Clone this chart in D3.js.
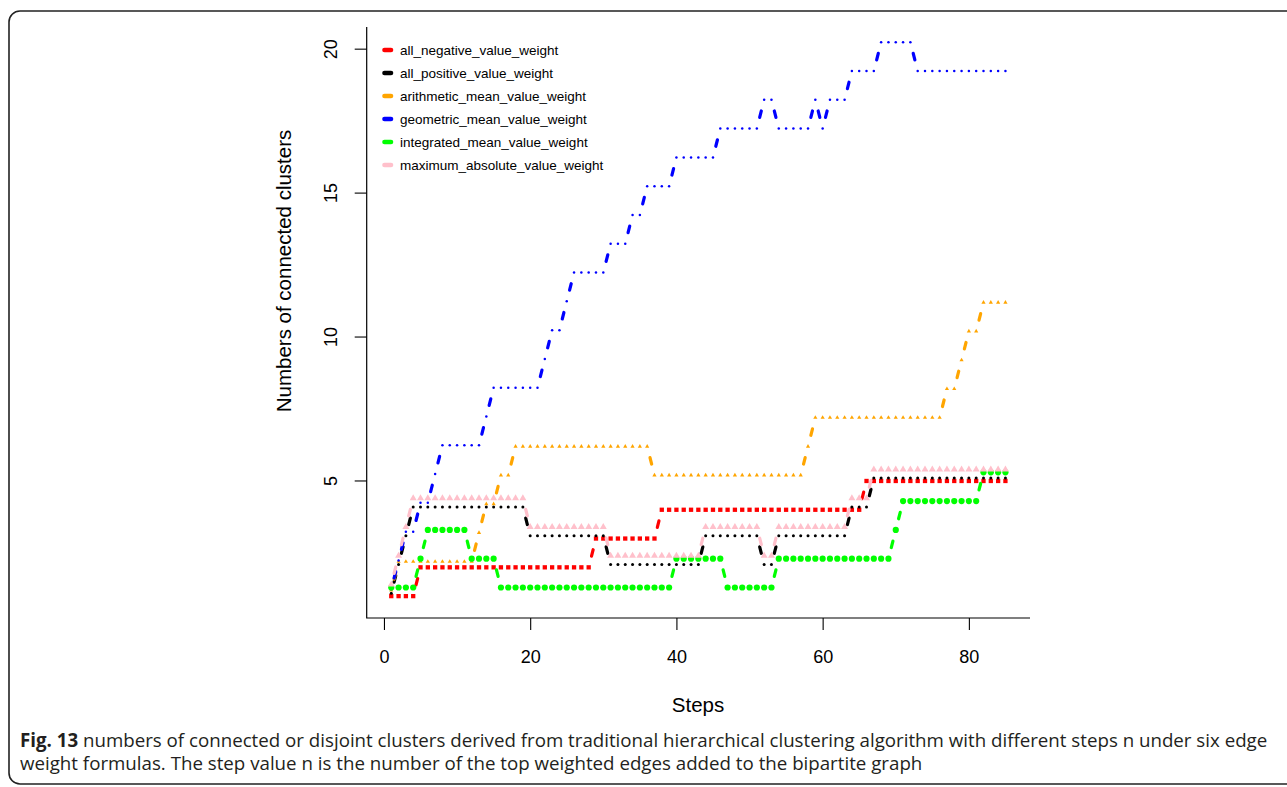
<!DOCTYPE html>
<html>
<head>
<meta charset="utf-8">
<script src="https://cdn.jsdelivr.net/npm/d3@7"></script>
<style>
  body { margin: 0; background: #fff; }
  svg { display: block; }
  text { font-family: "Liberation Sans", Arial, Helvetica, sans-serif; }
</style>
</head>
<body>
<div id="chart-area"></div>
<script>
// steps 1..85 on the x axis
const steps = d3.range(1, 86)

const seriesNames = [
  "all_negative_value_weight",
  "all_positive_value_weight",
  "arithmetic_mean_value_weight",
  "geometric_mean_value_weight",
  "integrated_mean_value_weight",
  "maximum_absolute_value_weight"
]

// values, one per step
const allNegative = [1,1,1,1,2,2,2,2,2,2,2,2,2,2,2,2,2,2,2,2,2,2,2,2,2,2,2,2,3,3,3,3,3,3,3,3,3,4,4,4,4,4,4,4,4,4,4,4,4,4,4,4,4,4,4,4,4,4,4,4,4,4,4,4,4,5,5,5,5,5,5,5,5,5,5,5,5,5,5,5,5,5,5,5,5]
const allPositive = [1,2,3,4,4,4,4,4,4,4,4,4,4,4,4,4,4,4,4,3,3,3,3,3,3,3,3,3,3,3,2,2,2,2,2,2,2,2,2,2,2,2,2,3,3,3,3,3,3,3,3,2,2,3,3,3,3,3,3,3,3,3,3,4,4,4,5,5,5,5,5,5,5,5,5,5,5,5,5,5,5,5,5,5,5]
const arithmeticMean = [1,2,2,2,2,2,2,2,2,2,2,2,3,4,4,5,5,6,6,6,6,6,6,6,6,6,6,6,6,6,6,6,6,6,6,6,5,5,5,5,5,5,5,5,5,5,5,5,5,5,5,5,5,5,5,5,5,6,7,7,7,7,7,7,7,7,7,7,7,7,7,7,7,7,7,7,8,8,9,10,10,11,11,11,11]
const geometricMean = [1,2,3,3,4,4,5,6,6,6,6,6,6,7,8,8,8,8,8,8,8,9,10,10,11,12,12,12,12,12,13,13,13,14,14,15,15,15,15,16,16,16,16,16,16,17,17,17,17,17,17,18,18,17,17,17,17,17,18,17,18,18,18,19,19,19,19,20,20,20,20,20,19,19,19,19,19,19,19,19,19,19,19,19,19]
const integratedMean = [1,1,1,1,2,3,3,3,3,3,3,2,2,2,2,1,1,1,1,1,1,1,1,1,1,1,1,1,1,1,1,1,1,1,1,1,1,1,1,2,2,2,2,2,2,2,1,1,1,1,1,1,1,2,2,2,2,2,2,2,2,2,2,2,2,2,2,2,2,3,4,4,4,4,4,4,4,4,4,4,4,5,5,5,5]
const maximumAbsolute = [1,2,3,4,4,4,4,4,4,4,4,4,4,4,4,4,4,4,4,3,3,3,3,3,3,3,3,3,3,3,2,2,2,2,2,2,2,2,2,2,2,2,2,3,3,3,3,3,3,3,3,2,2,3,3,3,3,3,3,3,3,3,3,4,4,4,5,5,5,5,5,5,5,5,5,5,5,5,5,5,5,5,5,5,5]

// small vertical shift used in the figure so the lines do not overlap
const yOffsets = [0, 0.1, 0.2, 0.24, 0.3, 0.4]

const xTicks = [0, 20, 40, 60, 80]
const yTicks = [5, 10, 15, 20]

const captionBold = "Fig. 13"
const captionLine1 = " numbers of connected or disjoint clusters derived from traditional hierarchical clustering algorithm with different steps n under six edge"
const captionLine2 = "weight formulas. The step value n is the number of the top weighted edges added to the bipartite graph"

const seriesValues = [allNegative, allPositive, arithmeticMean, geometricMean, integratedMean, maximumAbsolute]

// marker looks, per series
const styles = [
  { color: "#ff0000", shape: "square", size: 18.5 },
  { color: "#000000", shape: "circle", r: 1.5 },
  { color: "#ffa500", shape: "triangle", size: 7.6 },
  { color: "#0000ff", shape: "circle", r: 1.25 },
  { color: "#00ff00", shape: "circle", r: 3.1 },
  { color: "#ffc0cb", shape: "triangle", size: 21 }
]

const W = 1287, H = 787
const svg = d3.select("#chart-area").append("svg")
  .attr("width", W)
  .attr("height", H)

// figure frame
svg.append("rect")
  .attr("x", 9).attr("y", 11)
  .attr("width", 1300).attr("height", 773)
  .attr("rx", 11).attr("ry", 11)
  .attr("fill", "none")
  .attr("stroke", "#222")
  .attr("stroke-width", 1.6)

const x = d3.scaleLinear()
  .domain([-2.36, 88.36])
  .range([366.7, 1030])

const y = d3.scaleLinear()
  .domain([0.24, 20.77])
  .range([618, 27])

const g = svg.append("g")

// L shaped box
g.append("path")
  .attr("d", `M${x.range()[0]},${y.range()[1]}V${y.range()[0]}H${x.range()[1]}`)
  .attr("fill", "none")
  .attr("stroke", "#000")
  .attr("stroke-width", 1.2)

// x axis
const xAxisCall = d3.axisBottom(x).tickValues(xTicks).tickSize(12).tickPadding(20)
const xAxis = g.append("g")
  .attr("transform", `translate(0, ${y.range()[0]})`)
  .call(xAxisCall)
xAxis.select(".domain").remove()
xAxis.selectAll("line").attr("stroke-width", 1.1)
xAxis.selectAll("text")
  .attr("font-size", "18px")
  .attr("font-family", "Liberation Sans, Arial, sans-serif")
  .attr("fill", "#000")

// y axis, labels parallel to the axis
const yAxis = g.append("g")
yAxis.selectAll("line").data(yTicks).enter().append("line")
  .attr("x1", x.range()[0] - 12).attr("x2", x.range()[0])
  .attr("y1", d => y(d)).attr("y2", d => y(d))
  .attr("stroke", "#000")
  .attr("stroke-width", 1.1)
yAxis.selectAll("text").data(yTicks).enter().append("text")
  .attr("transform", d => `translate(331, ${y(d)}) rotate(-90)`)
  .attr("text-anchor", "middle")
  .attr("dominant-baseline", "central")
  .attr("font-size", "18px")
  .text(d => d)

// axis titles
g.append("text")
  .attr("x", 698)
  .attr("y", 704)
  .attr("text-anchor", "middle")
  .attr("dominant-baseline", "central")
  .attr("font-size", "20.5px")
  .text("Steps")

g.append("text")
  .attr("transform", "translate(283, 271) rotate(-90)")
  .attr("text-anchor", "middle")
  .attr("dominant-baseline", "central")
  .attr("font-size", "20.5px")
  .text("Numbers of connected clusters")

// series: type "b" style, short segments with a gap round every point
const GAP = 11.5
seriesValues.forEach((vals, i) => {
  const st = styles[i]
  const pts = vals.map((v, j) => [x(steps[j]), y(v + yOffsets[i])])
  const sg = g.append("g")

  for (let j = 0; j < pts.length - 1; j++) {
    const [x0, y0] = pts[j], [x1, y1] = pts[j + 1]
    const d = Math.hypot(x1 - x0, y1 - y0)
    if (d <= 2 * GAP) continue
    const ux = (x1 - x0) / d, uy = (y1 - y0) / d
    sg.append("line")
      .attr("x1", x0 + ux * GAP).attr("y1", y0 + uy * GAP)
      .attr("x2", x1 - ux * GAP).attr("y2", y1 - uy * GAP)
      .attr("stroke", st.color)
      .attr("stroke-width", 3.2)
      .attr("stroke-linecap", "round")
  }

  if (st.shape === "circle") {
    sg.selectAll("circle").data(pts).enter().append("circle")
      .attr("cx", d => d[0]).attr("cy", d => d[1])
      .attr("r", st.r)
      .attr("fill", st.color)
  } else {
    const sym = d3.symbol()
      .type(st.shape === "square" ? d3.symbolSquare : d3.symbolTriangle)
      .size(st.size)
    sg.selectAll("path").data(pts).enter().append("path")
      .attr("transform", d => `translate(${d[0]}, ${d[1]})`)
      .attr("d", sym)
      .attr("fill", st.color)
  }
})

// legend
const legend = g.append("g")
seriesNames.forEach((name, i) => {
  const ly = 50 + i * 23
  legend.append("line")
    .attr("x1", 384.5).attr("x2", 391)
    .attr("y1", ly).attr("y2", ly)
    .attr("stroke", styles[i].color)
    .attr("stroke-width", 4.6)
    .attr("stroke-linecap", "round")
  legend.append("text")
    .attr("x", 400)
    .attr("y", ly)
    .attr("dominant-baseline", "central")
    .attr("font-size", "13.5px")
    .text(name)
})

// caption
const cap1 = svg.append("text")
  .attr("x", 20).attr("y", 747)
  .attr("font-size", "17px")
  .attr("fill", "#231f20")
  .style("font-family", "'Open Sans', 'Noto Sans', sans-serif")
cap1.append("tspan").attr("font-weight", "bold").text(captionBold)
cap1.append("tspan").text(captionLine1)

const cap2 = svg.append("text")
  .attr("x", 20).attr("y", 770)
  .attr("font-size", "17px")
  .attr("fill", "#231f20")
  .style("font-family", "'Open Sans', 'Noto Sans', sans-serif")
  .text(captionLine2)

// fit caption width to the figure
const len1 = cap1.node().getComputedTextLength()
const fs = 17 * 1248 / len1
cap1.attr("font-size", fs + "px")
cap2.attr("font-size", fs + "px")
</script>
</body>
</html>
